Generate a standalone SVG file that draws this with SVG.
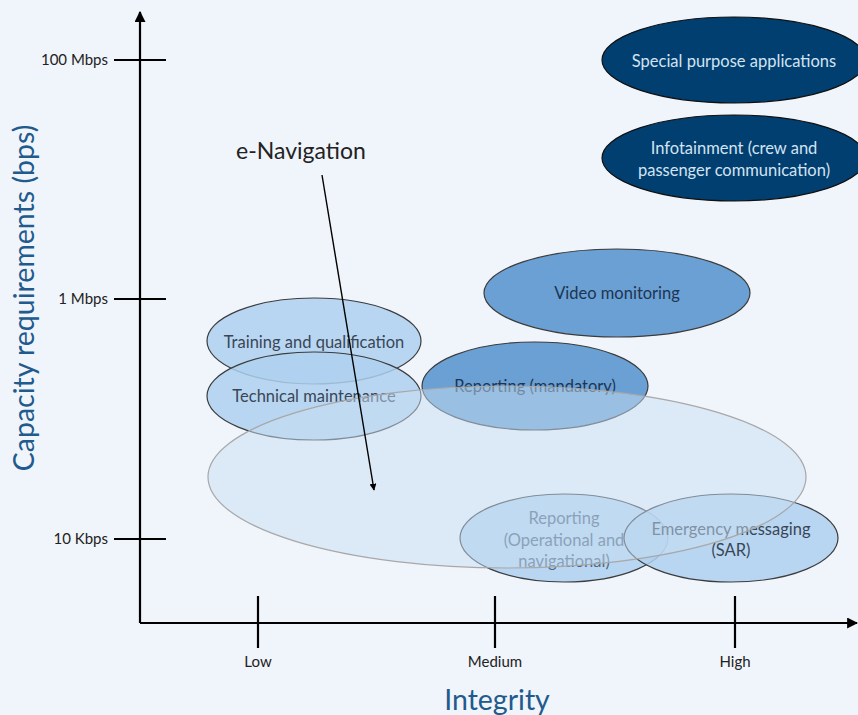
<svg xmlns="http://www.w3.org/2000/svg" width="858" height="715" viewBox="0 0 858 715">
<defs>
<marker id="ah" viewBox="0 0 10 10" refX="9" refY="5" markerWidth="7" markerHeight="7" markerUnits="userSpaceOnUse" orient="auto"><path d="M0,0 L10,5 L0,10 Z" fill="#000"/></marker>
<marker id="axh" viewBox="0 0 10 10" refX="9" refY="5" markerWidth="11" markerHeight="11" markerUnits="userSpaceOnUse" orient="auto"><path d="M0,0 L10,5 L0,10 Z" fill="#000"/></marker>
</defs>
<style>
text{font-family:Lato,"Liberation Sans",sans-serif}
.ax{stroke:#000;stroke-width:2.2;fill:none}
.tick{font-size:15px;fill:#222}
.title{font-size:28.5px;fill:#215a8c}
.light{fill:#aed0ee;fill-opacity:0.85;stroke:#3c3c3c;stroke-width:1.2}
.mid{fill:#6ba0d4;stroke:#3c3c3c;stroke-width:1.2}
.dark{fill:#003f70;stroke:#111;stroke-width:1.2}
.lbl{font-size:16.5px;fill:#3a4656;text-anchor:middle}
.lblf{font-size:16.5px;fill:#4d6580;text-anchor:middle}
.lblw{font-size:16.5px;fill:#d4e3f2;text-anchor:middle}
.lblm{font-size:16.5px;fill:#1d3552;text-anchor:middle}
</style>
<rect width="858" height="715" fill="#f0f4fb"/>
<g id="axes">
<line class="ax" x1="140" y1="623" x2="140" y2="12" marker-end="url(#axh)"/>
<line class="ax" x1="140" y1="623" x2="857" y2="623" marker-end="url(#axh)"/>
<line class="ax" x1="114" y1="60" x2="166" y2="60"/>
<line class="ax" x1="114" y1="299" x2="166" y2="299"/>
<line class="ax" x1="114" y1="539" x2="166" y2="539"/>
<line class="ax" x1="258" y1="596" x2="258" y2="648"/>
<line class="ax" x1="495" y1="596" x2="495" y2="648"/>
<line class="ax" x1="735" y1="596" x2="735" y2="648"/>
<text class="tick" x="108" y="65" text-anchor="end">100 Mbps</text>
<text class="tick" x="108" y="304" text-anchor="end">1 Mbps</text>
<text class="tick" x="108" y="544" text-anchor="end">10 Kbps</text>
<text class="tick" x="258" y="667" text-anchor="middle">Low</text>
<text class="tick" x="495" y="667" text-anchor="middle">Medium</text>
<text class="tick" x="735" y="667" text-anchor="middle">High</text>
<text class="title" x="497" y="710" text-anchor="middle">Integrity</text>
<text class="title" transform="translate(34,298) rotate(-90)" text-anchor="middle">Capacity requirements (bps)</text>
</g>
<g id="training">
<ellipse class="light" cx="314" cy="341" rx="107" ry="43"/>
<text class="lbl" x="314" y="348">Training and qualification</text>
</g>
<g id="technical">
<ellipse class="light" cx="314" cy="396" rx="107" ry="44"/>
<text class="lbl" x="314" y="402">Technical maintenance</text>
</g>
<g id="video">
<ellipse class="mid" cx="617" cy="293" rx="133" ry="44"/>
<text class="lblm" x="617" y="299">Video monitoring</text>
</g>
<g id="reporting-mandatory">
<ellipse class="mid" cx="535" cy="386" rx="113" ry="44"/>
<text class="lblm" x="535" y="392">Reporting (mandatory)</text>
</g>
<g id="special">
<ellipse class="dark" cx="734" cy="60" rx="132" ry="43"/>
<text class="lblw" x="734" y="67">Special purpose applications</text>
</g>
<g id="infotainment">
<ellipse class="dark" cx="734" cy="158" rx="132" ry="43"/>
<text class="lblw" x="734" y="154">Infotainment (crew and</text>
<text class="lblw" x="734" y="176">passenger communication)</text>
</g>
<g id="reporting-operational">
<ellipse class="light" cx="564" cy="538" rx="104" ry="44"/>
<text class="lblf" x="564" y="524">Reporting</text>
<text class="lblf" x="564" y="546">(Operational and</text>
<text class="lblf" x="564" y="567">navigational)</text>
</g>
<g id="emergency">
<ellipse class="light" cx="731" cy="538" rx="107" ry="44"/>
<text class="lbl" x="731" y="535">Emergency messaging</text>
<text class="lbl" x="731" y="556">(SAR)</text>
</g>
<g id="e-navigation">
<ellipse cx="507" cy="477" rx="299" ry="91" fill="#c8ddf2" fill-opacity="0.5" stroke="#a8a8a8" stroke-width="1.2"/>
<text x="301" y="159" font-size="23" fill="#222" text-anchor="middle">e-Navigation</text>
</g>
<g id="connectors">
<line x1="322" y1="175" x2="374" y2="490" stroke="#000" stroke-width="1.4" marker-end="url(#ah)"/>
</g>
</svg>
